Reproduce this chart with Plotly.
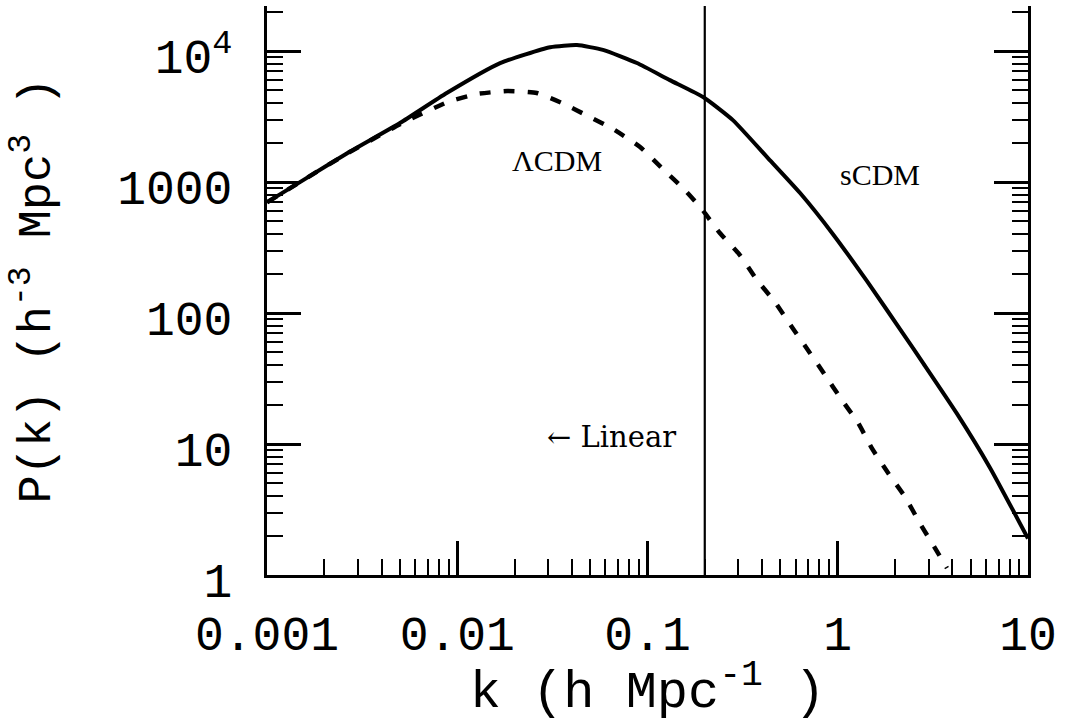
import math
import plotly.graph_objects as go

# Linear matter power spectra, P(k) in h^-3 Mpc^3 versus k in h Mpc^-1
k_scdm = [0.001, 0.00155, 0.00264, 0.005, 0.0088, 0.0168, 0.0308, 0.0426, 0.0583,
          0.088, 0.131, 0.196, 0.281, 0.425, 0.634, 0.944, 1.425, 2.2, 2.81, 4.24,
          6.31, 10.0]
p_scdm = [700, 1035, 1660, 2820, 4780, 8090, 10700, 11100, 10200,
          8100, 6000, 4460, 2970, 1550, 824, 400, 175, 70, 41.5, 17,
          6.6, 1.9]

k_lcdm = [0.001, 0.00155, 0.00264, 0.005, 0.0089, 0.0127, 0.0183, 0.0262, 0.0355,
          0.0487, 0.0659, 0.0914, 0.119, 0.157, 0.193, 0.240, 0.306, 0.376, 0.468,
          0.575, 0.698, 0.857, 1.05, 1.28, 1.51, 1.84, 2.26, 2.70, 3.24, 3.75]
p_lcdm = [700, 1035, 1650, 2760, 4080, 4700, 4950, 4780, 4010,
          3190, 2540, 1850, 1280, 869, 622, 408, 277, 179, 121,
          78, 52, 33.7, 21.7, 14.5, 9.3, 6.0, 3.94, 2.49, 1.61, 1.13]

# Boundary between linear and non-linear scales
k_nonlinear = 0.2

x_ticks = [0.001, 0.01, 0.1, 1, 10]
x_ticktext = ["0.001", "0.01", "0.1", "1", "10"]
y_ticks = [1, 10, 100, 1000, 10000]
y_ticktext = ["1", "10", "100", "1000", "10<sup>4</sup>"]

x_range = [-3, 1]
y_range = [0, 4.344]

mono = "Liberation Mono"

fig = go.Figure()

fig.add_trace(go.Scatter(
    x=k_scdm, y=p_scdm, mode="lines",
    line=dict(color="black", width=4, shape="spline", smoothing=0.5),
    showlegend=False, hoverinfo="skip",
))
fig.add_trace(go.Scatter(
    x=k_lcdm, y=p_lcdm, mode="lines",
    line=dict(color="black", width=4.5, dash="11px,13px", shape="spline", smoothing=0.5),
    showlegend=False, hoverinfo="skip",
))
# vertical marker at the non-linear scale, spanning the full y axis
fig.add_trace(go.Scatter(
    x=[k_nonlinear, k_nonlinear], y=[10 ** y_range[0], 10 ** y_range[1]],
    mode="lines", line=dict(color="black", width=2.2),
    showlegend=False, hoverinfo="skip", cliponaxis=False,
))

fig.add_annotation(x=math.log10(0.0334), y=3.168, xref="x", yref="y", text="ΛCDM",
                   showarrow=False, font=dict(family="Liberation Serif", size=30, color="black"))
fig.add_annotation(x=0.222, y=3.061, xref="x", yref="y", text="sCDM",
                   showarrow=False, font=dict(family="Liberation Serif", size=30, color="black"))
fig.add_annotation(x=-1.187, y=1.053, xref="x", yref="y", text="← Linear",
                   showarrow=False, font=dict(family="DejaVu Serif", size=29, color="black"))

axis_common = dict(
    type="log", showgrid=False, zeroline=False, automargin=False,
    showline=True, linecolor="black", linewidth=3,
    ticks="inside", ticklen=34, tickwidth=2.5, tickcolor="black",
    tickfont=dict(family=mono, size=48, color="black"),
    minor=dict(ticks="inside", ticklen=16, tickwidth=2, tickcolor="black",
               dtick="D1", showgrid=False),
)

fig.update_xaxes(
    **axis_common, range=x_range, tickvals=x_ticks, ticktext=x_ticktext,
    mirror=False, ticklabelstandoff=14,
    title=dict(text="k (h Mpc<sup>-1</sup> )", font=dict(family=mono, size=52, color="black"),
               standoff=22),
)
fig.update_yaxes(
    **axis_common, range=y_range, tickvals=y_ticks, ticktext=y_ticktext,
    mirror="ticks", ticklabelstandoff=22, ticklabelshift=5,
    title=dict(text="P(k) (h<sup>-3</sup> Mpc<sup>3</sup> )",
               font=dict(family=mono, size=47, color="black"), standoff=52),
)

fig.update_layout(
    width=1065, height=723,
    margin=dict(l=267, r=37, t=6, b=148),
    paper_bgcolor="white", plot_bgcolor="white",
    showlegend=False,
)

fig.write_html("out.html")
